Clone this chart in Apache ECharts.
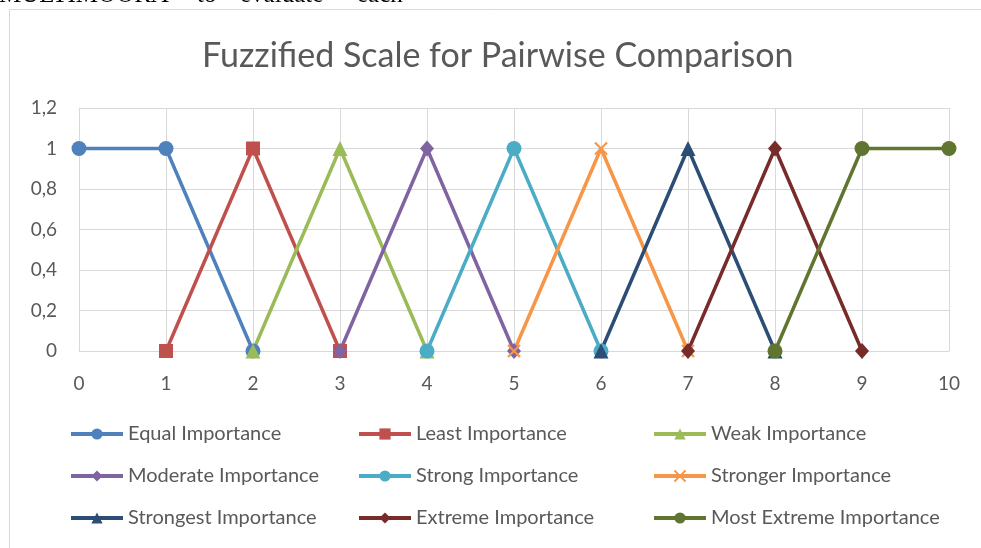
<!DOCTYPE html>
<html>
<head>
<meta charset="utf-8">
<title>Fuzzified Scale</title>
<script src="https://cdn.jsdelivr.net/npm/echarts@6/dist/echarts.min.js"></script>
<style>
    html, body { margin: 0; padding: 0; background: #fff; }
    #chart { width: 981px; height: 548px; }
</style>
</head>
<body>
<div id="chart"></div>
<script>
(function() {
    'use strict';
    // 数据
    var seriesNames = ['Equal Importance', 'Least Importance', 'Weak Importance',
        'Moderate Importance', 'Strong Importance', 'Stronger Importance',
        'Strongest Importance', 'Extreme Importance', 'Most Extreme Importance'];
    var equalPts = [[0, 1], [1, 1], [2, 0]];
    var leastPts = [[1, 0], [2, 1], [3, 0]];
    var weakPts = [[2, 0], [3, 1], [4, 0]];
    var moderatePts = [[3, 0], [4, 1], [5, 0]];
    var strongPts = [[4, 0], [5, 1], [6, 0]];
    var strongerPts = [[5, 0], [6, 1], [7, 0]];
    var strongestPts = [[6, 0], [7, 1], [8, 0]];
    var extremePts = [[7, 0], [8, 1], [9, 0]];
    var mostExtremePts = [[8, 0], [9, 1], [10, 1]];
    var xTicks = [0, 1, 2, 3, 4, 5, 6, 7, 8, 9, 10];
    var yTicks = ['0', '0,2', '0,4', '0,6', '0,8', '1', '1,2'];

    var allData = [equalPts, leastPts, weakPts, moderatePts, strongPts,
        strongerPts, strongestPts, extremePts, mostExtremePts];
    var colors = ['#4F81BD', '#C0504D', '#9BBB59', '#8064A2', '#4BACC6',
        '#F79646', '#2C4D75', '#772C2A', '#5F7530'];
    var symbols = ['circle', 'rect', 'triangle', 'diamond', 'circle',
        'path://M0,0L10,10M10,0L0,10', 'triangle', 'diamond', 'circle'];
    var sizes = [15, 14, 15, [14, 16], 15, 12, 15, [14, 16], 15];

    var font = 'Lato, "Open Sans", sans-serif';
    var grey = '#595959';

    var series = [];
    for (var i = 0; i < allData.length; i++) {
        var isX = i === 5;
        series.push({
            name: seriesNames[i],
            type: 'line',
            data: allData[i],
            symbol: symbols[i],
            symbolSize: sizes[i],
            showAllSymbol: true,
            animation: false,
            lineStyle: { color: colors[i], width: 3.5 },
            itemStyle: {
                color: colors[i],
                borderColor: colors[i],
                borderWidth: isX ? 2.2 : 0
            }
        });
    }

    function makeLegend(left, names) {
        return {
            orient: 'vertical',
            left: left,
            top: 424,
            padding: 0,
            itemWidth: 52,
            itemHeight: 14,
            itemGap: 22,
            data: names,
            lineStyle: { width: 4 },
            textStyle: { color: grey, fontSize: 20, fontFamily: font }
        };
    }

    var chart = echarts.init(document.getElementById('chart'));
    var option = {
        backgroundColor: '#fff',
        color: colors,
        title: {
            text: 'Fuzzified Scale for Pairwise Comparison',
            left: 202,
            top: 39,
            padding: 0,
            textStyle: { color: grey, fontSize: 34, fontWeight: 'normal', fontFamily: font }
        },
        graphic: [
            {
                type: 'rect', silent: true,
                shape: { x: 9.5, y: 9.5, width: 1000, height: 600 },
                style: { fill: 'none', stroke: '#d9d9d9', lineWidth: 1 }
            },
            { type: 'text', x: -1, y: -5, silent: true, style: { text: 'MULTIMOORA', font: '25px "Liberation Serif"', fill: '#000', verticalAlign: 'middle' } },
            { type: 'text', x: 197, y: -5, silent: true, style: { text: 'to', font: '25px "Liberation Serif"', fill: '#000', verticalAlign: 'middle' } },
            { type: 'text', x: 240, y: -5, silent: true, style: { text: 'evaluate', font: '25px "Liberation Serif"', fill: '#000', verticalAlign: 'middle' } },
            { type: 'text', x: 357, y: -5, silent: true, style: { text: 'each', font: '25px "Liberation Serif"', fill: '#000', verticalAlign: 'middle' } }
        ],
        legend: [
            makeLegend(69, [seriesNames[0], seriesNames[3], seriesNames[6]]),
            makeLegend(357, [seriesNames[1], seriesNames[4], seriesNames[7]]),
            makeLegend(652, [seriesNames[2], seriesNames[5], seriesNames[8]])
        ],
        grid: { left: 79, right: 32, top: 108, bottom: 197, containLabel: false },
        xAxis: {
            type: 'value',
            min: xTicks[0],
            max: xTicks[xTicks.length - 1],
            interval: 1,
            axisLine: { show: true, lineStyle: { color: '#d9d9d9', width: 1 } },
            axisTick: { show: false },
            splitLine: { show: true, lineStyle: { color: '#d9d9d9', width: 1 } },
            axisLabel: { color: grey, fontSize: 19, fontFamily: font, margin: 23 }
        },
        yAxis: {
            type: 'value',
            min: 0,
            max: 1.2,
            interval: 0.2,
            axisLine: { show: true, lineStyle: { color: '#d9d9d9', width: 1 } },
            axisTick: { show: false },
            splitLine: { show: true, lineStyle: { color: '#d9d9d9', width: 1 } },
            axisLabel: {
                color: grey, fontSize: 19, fontFamily: font, margin: 22,
                formatter: function(val) {
                    var idx = Math.round(val / 0.2);
                    return yTicks[idx];
                }
            }
        },
        series: series
    };
    chart.setOption(option);
})();
</script>
</body>
</html>
